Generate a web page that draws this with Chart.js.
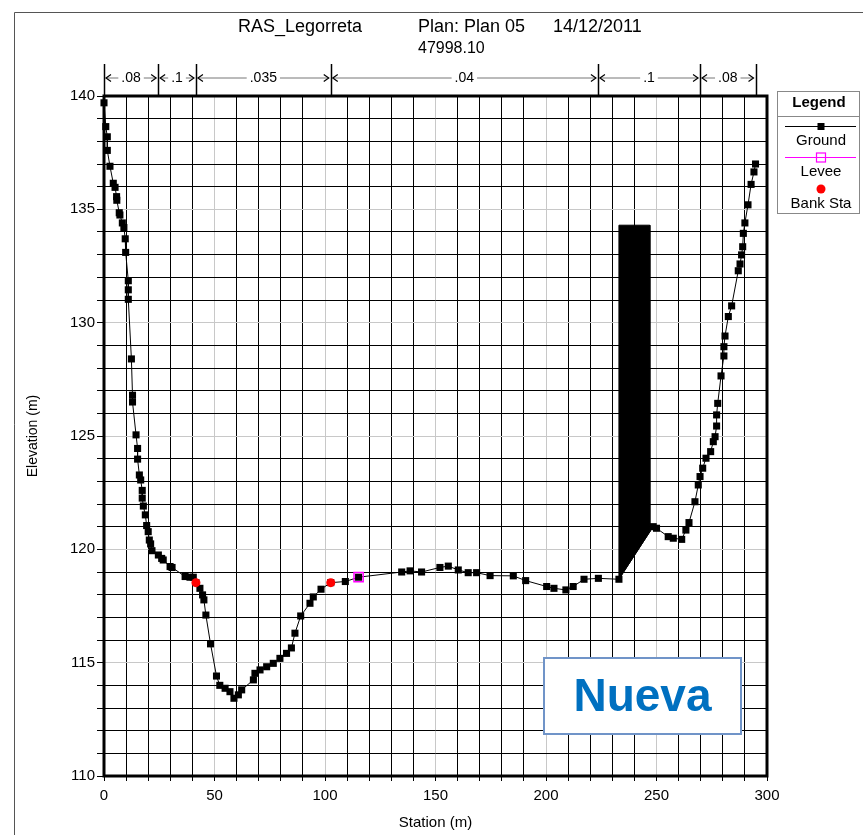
<!DOCTYPE html>
<html>
<head>
<meta charset="utf-8">
<script src="https://cdn.jsdelivr.net/npm/chart.js@4.4.0/dist/chart.umd.min.js"></script>
<style>
  body { margin: 0; background: #fff; }
  #wrap { width: 863px; height: 835px; position: relative; }
</style>
</head>
<body>
<div id="wrap"><canvas id="grafico"></canvas></div>
<script>
// Sección transversal 47998.10 (estación, cota)
const estaciones = [
  0, 0.8, 1.5, 1.5, 2.7, 4.2, 5.0, 5.7, 5.8, 6.9, 7.2, 8.3, 9.0, 9.6, 9.8,
  11.0, 11.0, 11.0, 12.4, 12.9, 12.9, 14.5, 15.2, 15.2, 16.0, 16.6, 17.3, 17.3,
  17.8, 18.7, 19.3, 20.0, 20.5, 21.1, 21.7, 24.6, 26.1, 26.8, 29.9, 30.8, 36.7,
  38.9, 40.4, 41.6, 43.4, 44.6, 45.2, 46.1, 48.2, 50.9, 52.4, 54.8, 57.0, 58.8,
  60.8, 62.3, 67.6, 68.3, 70.6, 73.6, 76.6, 79.6, 82.6, 84.8, 86.4, 89.0, 93.2,
  94.7, 98.2, 102.6, 109.2, 115.2, 134.7, 138.5, 143.7, 152.0, 155.8, 160.3,
  164.8, 168.6, 174.7, 185.2, 190.8, 200.3, 203.6, 209.0, 212.3, 217.2, 223.7,
  233.0, 248.5, 250.0, 255.3, 257.6, 261.4, 263.3, 264.7, 267.4, 268.9, 269.7,
  270.9, 272.4, 274.5, 275.7, 276.5, 277.2, 277.2, 277.7, 279.2, 280.5, 280.5,
  281.0, 282.5, 284.0, 287.0, 287.8, 288.5, 289.0, 289.3, 290.0, 291.4, 292.8,
  294.1, 294.8
];
const cotas = [
  139.7, 138.65, 138.2, 137.6, 136.9, 136.15, 135.97, 135.56, 135.4, 134.85, 134.75, 134.4, 134.2, 133.7, 133.1,
  131.85, 131.45, 131.03, 128.4, 126.8, 126.5, 125.05, 124.45, 123.98, 123.28, 123.06, 122.6, 122.26,
  121.91, 121.52, 121.05, 120.78, 120.41, 120.24, 119.94, 119.75, 119.6, 119.53, 119.24, 119.2, 118.8,
  118.77, 118.77, 118.53, 118.28, 117.99, 117.77, 117.1, 115.83, 114.41, 114.0, 113.87, 113.72, 113.43,
  113.58, 113.8, 114.24, 114.53, 114.68, 114.82, 114.97, 115.19, 115.41, 115.65, 116.3, 117.06, 117.62,
  117.9, 118.24, 118.53, 118.58, 118.77, 119.0, 119.05, 119.0, 119.2, 119.26, 119.09,
  118.97, 118.97, 118.84, 118.83, 118.62, 118.36, 118.28, 118.21, 118.36, 118.68, 118.72,
  118.68, 121.0, 120.93, 120.56, 120.49, 120.44, 120.85, 121.18, 122.1, 122.84, 123.21,
  123.58, 124.02, 124.31, 124.75, 124.97, 125.44, 125.93, 126.44, 127.65, 128.53, 128.94,
  129.41, 130.27, 130.74, 132.29, 132.59, 132.99, 133.35, 133.94, 134.4, 135.2, 136.1,
  136.65, 137.0
];
const bancoEst = [41.6, 102.6];
const bancoCota = [118.53, 118.53];
const diqueEst = [115.2];
const diqueCota = [118.77];
// obstrucción bloqueada
const obstEst = [233, 233, 247, 247, 233];
const obstCota = [118.68, 134.3, 134.3, 120.78, 118.68];
// valores de Manning
const nLimites = [0, 24.5, 41.6, 102.6, 223.5, 269.7, 294.8];
const nValores = [".08", ".1", ".035", ".04", ".1", ".08"];
const ticksX = [0, 50, 100, 150, 200, 250, 300];
const ticksY = [110, 115, 120, 125, 130, 135, 140];

const FUENTE = '"Liberation Sans", Arial, sans-serif';
Chart.defaults.font.family = FUENTE;
Chart.defaults.color = "#000";

function puntos(xs, ys) {
  return xs.map((v, i) => ({ x: v, y: ys[i] }));
}

const extras = {
  id: "extras",
  beforeDatasetsDraw(chart) {
    const { ctx, chartArea: a } = chart;
    ctx.save();
    ctx.strokeStyle = "#000";
    ctx.lineWidth = 3;
    ctx.strokeRect(a.left, a.top, a.right - a.left, a.bottom - a.top);
    ctx.restore();
  },
  afterDraw(chart) {
    const { ctx, chartArea: a, scales: { x } } = chart;
    ctx.save();

    // marco exterior
    ctx.strokeStyle = "#555";
    ctx.lineWidth = 1;
    ctx.beginPath();
    ctx.moveTo(14.5, 900);
    ctx.lineTo(14.5, 12.5);
    ctx.lineTo(900, 12.5);
    ctx.stroke();

    // títulos
    ctx.fillStyle = "#000";
    ctx.textBaseline = "alphabetic";
    ctx.textAlign = "left";
    ctx.font = "18px " + FUENTE;
    ctx.fillText("RAS_Legorreta", 238, 32);
    ctx.fillText("Plan: Plan 05", 418, 32);
    ctx.fillText("14/12/2011", 553, 32);
    ctx.font = "16px " + FUENTE;
    ctx.fillText("47998.10", 418, 53);

    // valores de n
    const yN = 78;
    ctx.font = "14px " + FUENTE;
    ctx.textAlign = "center";
    ctx.textBaseline = "middle";
    ctx.strokeStyle = "#000";
    ctx.lineWidth = 1.5;
    nLimites.forEach((s) => {
      const px = Math.round(x.getPixelForValue(s)) + 0.5;
      ctx.beginPath();
      ctx.moveTo(px, 64);
      ctx.lineTo(px, a.top);
      ctx.stroke();
    });
    for (let i = 0; i < nValores.length; i++) {
      const p1 = x.getPixelForValue(nLimites[i]);
      const p2 = x.getPixelForValue(nLimites[i + 1]);
      const mid = (p1 + p2) / 2;
      const w = ctx.measureText(nValores[i]).width;
      ctx.strokeStyle = "#777";
      ctx.lineWidth = 1;
      ctx.beginPath();
      ctx.moveTo(p1 + 2, yN);
      ctx.lineTo(mid - w / 2 - 3, yN);
      ctx.moveTo(mid + w / 2 + 3, yN);
      ctx.lineTo(p2 - 2, yN);
      ctx.stroke();
      ctx.strokeStyle = "#000";
      ctx.lineWidth = 1.2;
      ctx.beginPath();
      ctx.moveTo(p1 + 7, yN - 3.5);
      ctx.lineTo(p1 + 2, yN);
      ctx.lineTo(p1 + 7, yN + 3.5);
      ctx.moveTo(p2 - 7, yN - 3.5);
      ctx.lineTo(p2 - 2, yN);
      ctx.lineTo(p2 - 7, yN + 3.5);
      ctx.stroke();
      ctx.fillText(nValores[i], mid, yN);
    }

    // leyenda
    ctx.strokeStyle = "#888";
    ctx.lineWidth = 1;
    ctx.fillStyle = "#fff";
    ctx.fillRect(777.5, 91.5, 82, 122);
    ctx.strokeRect(777.5, 91.5, 82, 122);
    ctx.beginPath();
    ctx.moveTo(777.5, 116.5);
    ctx.lineTo(859.5, 116.5);
    ctx.stroke();
    ctx.fillStyle = "#000";
    ctx.font = "bold 15px " + FUENTE;
    ctx.fillText("Legend", 819, 103);
    ctx.font = "15px " + FUENTE;
    ctx.strokeStyle = "#000";
    ctx.beginPath();
    ctx.moveTo(785, 126.5);
    ctx.lineTo(856, 126.5);
    ctx.stroke();
    ctx.fillRect(817.5, 123, 7, 7);
    ctx.fillText("Ground", 821, 141);
    ctx.strokeStyle = "#ff00ff";
    ctx.beginPath();
    ctx.moveTo(785, 157.5);
    ctx.lineTo(856, 157.5);
    ctx.stroke();
    ctx.lineWidth = 1.2;
    ctx.strokeRect(816.5, 153, 9, 9);
    ctx.fillText("Levee", 821, 172);
    ctx.fillStyle = "#ff0000";
    ctx.beginPath();
    ctx.arc(821, 189, 4.5, 0, Math.PI * 2);
    ctx.fill();
    ctx.fillStyle = "#000";
    ctx.fillText("Bank Sta", 821, 204);

    // etiqueta
    ctx.fillStyle = "#fff";
    ctx.fillRect(544, 658, 197, 76);
    ctx.strokeStyle = "#7094c8";
    ctx.lineWidth = 2;
    ctx.strokeRect(544, 658, 197, 76);
    ctx.fillStyle = "#0070c0";
    ctx.font = "bold 46px " + FUENTE;
    ctx.fillText("Nueva", 642.5, 698);

    ctx.restore();
  }
};

new Chart(document.getElementById("grafico"), {
  type: "scatter",
  data: {
    datasets: [
      {
        label: "Bank Sta",
        data: puntos(bancoEst, bancoCota),
        pointStyle: "circle",
        pointRadius: 4.5,
        pointBackgroundColor: "#ff0000",
        pointBorderWidth: 0,
        showLine: false,
        clip: 10,
      },
      {
        label: "Levee",
        data: puntos(diqueEst, diqueCota),
        pointStyle: "rect",
        pointRadius: 6.5,
        pointBackgroundColor: "rgba(0,0,0,0)",
        pointBorderColor: "#ff00ff",
        pointBorderWidth: 1.5,
        showLine: false,
        clip: 10,
      },
      {
        label: "Ground",
        data: puntos(estaciones, cotas),
        showLine: true,
        borderColor: "#000",
        borderWidth: 1,
        pointStyle: "rect",
        pointRadius: 5,
        pointBackgroundColor: "#000",
        pointBorderWidth: 0,
        clip: 10,
      },
      {
        label: "Obstruction",
        data: puntos(obstEst, obstCota),
        showLine: true,
        fill: "shape",
        backgroundColor: "#000",
        borderColor: "#000",
        borderWidth: 1,
        pointRadius: 0,
      },
    ],
  },
  options: {
    responsive: true,
    maintainAspectRatio: false,
    animation: false,
    layout: { padding: { top: 96, right: 96, left: 0, bottom: 0 } },
    plugins: {
      legend: { display: false },
      tooltip: { enabled: false },
    },
    scales: {
      x: {
        type: "linear",
        min: 0,
        max: 300,
        afterFit: (s) => { s.height = 59; },
        border: { display: false },
        grid: {
          color: (c) => (c.tick && c.tick.value % 50 === 0 ? "#c8c8c8" : "#000"),
          tickColor: "#000",
          tickLength: 5,
          lineWidth: 1,
        },
        ticks: {
          stepSize: 10,
          autoSkip: false,
          maxRotation: 0,
          padding: 6,
          font: { size: 15 },
          callback: (v) => (ticksX.includes(v) ? v : ""),
        },
        title: {
          display: true,
          text: "Station (m)",
          font: { size: 15 },
          padding: { top: 0, bottom: 3 },
        },
      },
      y: {
        type: "linear",
        min: 110,
        max: 140,
        afterFit: (s) => { s.width = 104; },
        border: { display: false },
        grid: {
          color: (c) => (c.tick && c.tick.value % 5 === 0 ? "#c8c8c8" : "#000"),
          tickColor: "#000",
          tickLength: 7,
          lineWidth: 1,
        },
        ticks: {
          stepSize: 1,
          autoSkip: false,
          padding: 2,
          font: { size: 15 },
          callback: (v) => (ticksY.includes(v) ? v : ""),
        },
        title: {
          display: true,
          text: "Elevation (m)",
          font: { size: 14 },
          padding: { top: 25, bottom: 0 },
        },
      },
    },
  },
  plugins: [extras],
});
</script>
</body>
</html>
